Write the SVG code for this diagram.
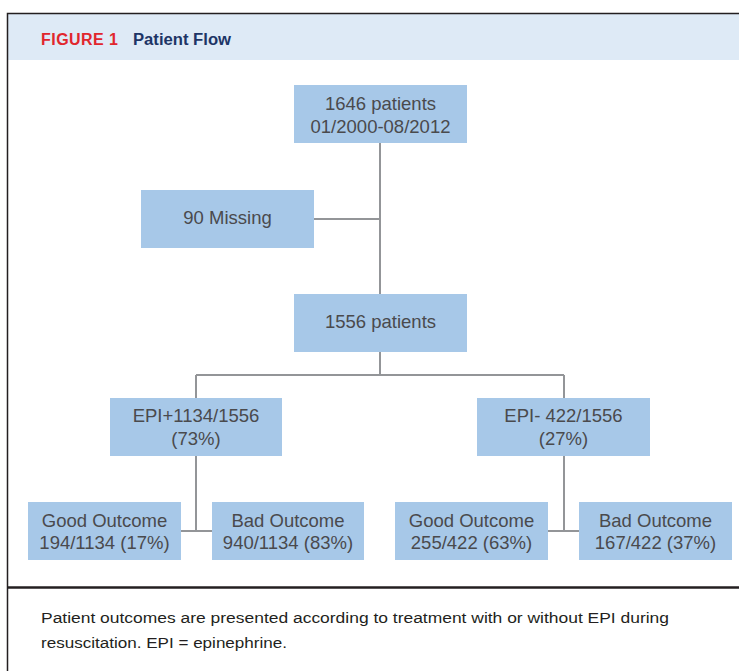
<svg xmlns="http://www.w3.org/2000/svg" width="739" height="671" viewBox="0 0 739 671">
<style>
.box{fill:#a7c8e8}
.t{font-family:"Liberation Sans",Arial,sans-serif;font-size:18.5px;fill:#4a4a4d;text-anchor:middle}
.c{fill:none;stroke:#939598;stroke-width:2}
.cap{font-family:"Liberation Sans",Arial,sans-serif;font-size:15.5px;fill:#231f20}
.hd{font-family:"Liberation Sans",Arial,sans-serif;font-size:16px;font-weight:bold}
</style>
<rect x="0" y="0" width="739" height="671" fill="#ffffff"/>
<rect x="7" y="13" width="732" height="47" fill="#deeaf6"/>
<path d="M7.5 671V13.5H739" fill="none" stroke="#231f20" stroke-width="1.5"/>
<line x1="7" y1="587.5" x2="739" y2="587.5" stroke="#231f20" stroke-width="2.5"/>
<text class="hd" x="41" y="44.5" fill="#e1262d" textLength="77" lengthAdjust="spacing">FIGURE 1</text>
<text class="hd" x="133" y="44.5" fill="#1d3566" textLength="98" lengthAdjust="spacingAndGlyphs">Patient Flow</text>
<g id="connectors">
<path class="c" d="M380 143V294"/>
<path class="c" d="M314 219H380"/>
<path class="c" d="M380 352V375M196 375H564M196 375V398M564 375V398"/>
<path class="c" d="M196 456V531M181 531H212"/>
<path class="c" d="M564 456V531M548 531H579"/>
</g>
<g id="n1646"><rect class="box" x="294" y="85" width="173" height="58"/><text class="t" x="380.5" y="110">1646 patients</text><text class="t" x="380.5" y="133">01/2000-08/2012</text></g>
<g id="nMissing"><rect class="box" x="141" y="190" width="173" height="58"/><text class="t" x="227.5" y="224">90 Missing</text></g>
<g id="n1556"><rect class="box" x="294" y="294" width="173" height="58"/><text class="t" x="380.5" y="328">1556 patients</text></g>
<g id="nEpiPlus"><rect class="box" x="110" y="398" width="172" height="58"/><text class="t" x="196" y="422">EPI+1134/1556</text><text class="t" x="196" y="445">(73%)</text></g>
<g id="nEpiMinus"><rect class="box" x="477" y="398" width="173" height="58"/><text class="t" x="563.5" y="422">EPI- 422/1556</text><text class="t" x="563.5" y="445">(27%)</text></g>
<g id="nGood1"><rect class="box" x="28" y="502" width="153" height="58"/><text class="t" x="104.5" y="527">Good Outcome</text><text class="t" x="104.5" y="549">194/1134 (17%)</text></g>
<g id="nBad1"><rect class="box" x="212" y="502" width="152" height="58"/><text class="t" x="288" y="527">Bad Outcome</text><text class="t" x="288" y="549">940/1134 (83%)</text></g>
<g id="nGood2"><rect class="box" x="395" y="502" width="153" height="58"/><text class="t" x="471.5" y="527">Good Outcome</text><text class="t" x="471.5" y="549">255/422 (63%)</text></g>
<g id="nBad2"><rect class="box" x="579" y="502" width="153" height="58"/><text class="t" x="655.5" y="527">Bad Outcome</text><text class="t" x="655.5" y="549">167/422 (37%)</text></g>
<text class="cap" x="41" y="623" textLength="628" lengthAdjust="spacingAndGlyphs">Patient outcomes are presented according to treatment with or without EPI during</text>
<text class="cap" x="41" y="648" textLength="246" lengthAdjust="spacingAndGlyphs">resuscitation. EPI = epinephrine.</text>
</svg>
